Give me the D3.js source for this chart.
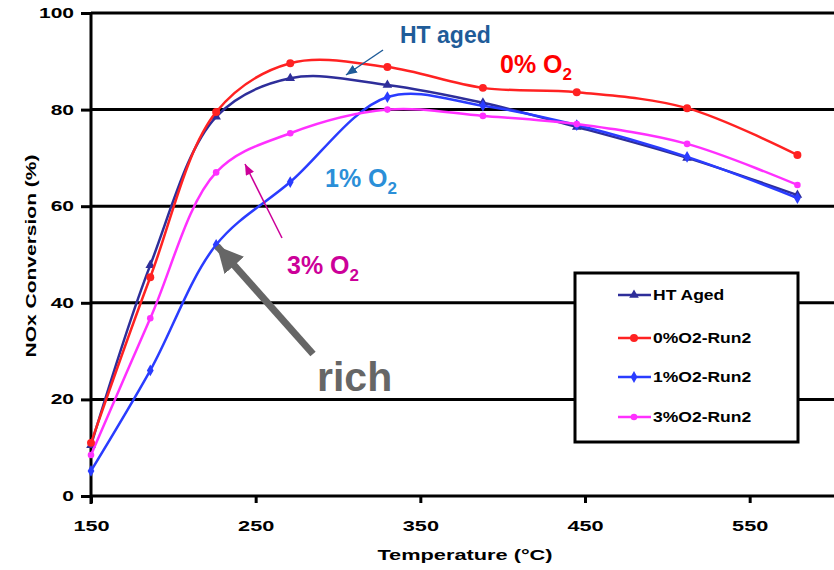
<!DOCTYPE html>
<html>
<head>
<meta charset="utf-8">
<script src="https://cdn.jsdelivr.net/npm/d3@7"></script>
<style>
  html, body { margin: 0; padding: 0; background: #fff; }
  svg { display: block; font-family: "Liberation Sans", Arial, sans-serif; }
  .axis text { font-weight: bold; font-size: 14px; fill: #000; }
  .axis path, .axis line { stroke: #000; stroke-width: 3; }
</style>
</head>
<body>
<svg id="chart" width="834" height="570"></svg>
<script>
// Temperatures (°C) of the measurement points
const temps = [150, 186, 226, 271, 330, 388, 445, 512, 579];

// NOx conversion (%) for each run
const htAged = [10.5, 47.8, 78.5, 86.5, 85.1, 81.4, 76.4, 70.0, 62.3];
const o2_0   = [11.0, 45.3, 79.5, 89.6, 88.8, 84.5, 83.6, 80.3, 70.6];
const o2_1   = [5.2, 26.0, 52.0, 65.0, 82.6, 80.8, 76.8, 70.2, 61.7];
const o2_3   = [8.5, 36.8, 67.0, 75.1, 80.0, 78.7, 77.0, 72.9, 64.4];

const seriesNames = ["HT Aged", "0%O2-Run2", "1%O2-Run2", "3%O2-Run2"];
const xTicks = [150, 250, 350, 450, 550];
const yTicks = [0, 20, 40, 60, 80, 100];

const series = [
  { name: seriesNames[0], values: htAged, color: "#2e2e9a", symbol: d3.symbolTriangle, size: 40 },
  { name: seriesNames[2], values: o2_1,   color: "#2a3cff", symbol: d3.symbolDiamond,  size: 40 },
  { name: seriesNames[3], values: o2_3,   color: "#ff30ff", symbol: d3.symbolCircle,   size: 34 },
  { name: seriesNames[1], values: o2_0,   color: "#ff2222", symbol: d3.symbolCircle,   size: 50 }
];

const svg = d3.select("#chart");
const x = d3.scaleLinear().domain([150, 600]).range([91, 832]);
const y = d3.scaleLinear().domain([0, 100]).range([496, 13]);

// the chart's lettering is set wide: stretch text along its baseline
function widen(sel, k) {
  sel.each(function () {
    const w = this.getComputedTextLength();
    d3.select(this).attr("textLength", w * k).attr("lengthAdjust", "spacingAndGlyphs");
  });
}

// horizontal grid lines
svg.append("g").selectAll("line")
  .data(yTicks.filter(d => d > 0))
  .join("line")
  .attr("x1", x(150)).attr("x2", 834)
  .attr("y1", d => y(d)).attr("y2", d => y(d))
  .attr("stroke", "#000").attr("stroke-width", 3);

// axes
svg.append("g").attr("class", "axis")
  .attr("transform", `translate(${x(150)},0)`)
  .call(d3.axisLeft(y).tickValues(yTicks).tickSize(10).tickPadding(7).tickSizeOuter(0))
  .call(g => g.select(".domain").attr("d", `M0,${y(0) + 8}V${y(100)}`))
  .call(g => widen(g.selectAll("text"), 1.5));

svg.append("g").attr("class", "axis")
  .attr("transform", `translate(0,${y(0)})`)
  .call(d3.axisBottom(x).tickValues(xTicks).tickSize(7).tickPadding(18).tickSizeOuter(0))
  .call(g => g.select(".domain").attr("d", `M${x(150)},0H834`))
  .call(g => widen(g.selectAll("text"), 1.55));

// axis titles
svg.append("text")
  .attr("x", 465).attr("y", 560)
  .attr("text-anchor", "middle")
  .attr("font-size", 15).attr("font-weight", "bold")
  .text("Temperature (°C)")
  .call(t => widen(t, 1.45));

svg.append("text")
  .attr("transform", "translate(36,256) rotate(-90)")
  .attr("text-anchor", "middle")
  .attr("font-size", 15).attr("font-weight", "bold")
  .text("NOx Conversion (%)")
  .call(t => widen(t, 1.4));

// curves
const line = d3.line()
  .x((d, i) => x(temps[i]))
  .y(d => y(d))
  .curve(d3.curveCatmullRom.alpha(0.5));

const gSeries = svg.append("g");
series.forEach(s => {
  gSeries.append("path")
    .attr("d", line(s.values))
    .attr("fill", "none")
    .attr("stroke", s.color)
    .attr("stroke-width", 2.5);
  gSeries.append("g").selectAll("path")
    .data(s.values)
    .join("path")
    .attr("transform", (d, i) => `translate(${x(temps[i])},${y(d)})`)
    .attr("d", d3.symbol().type(s.symbol).size(s.size))
    .attr("fill", s.color);
});

// legend
const lg = svg.append("g");
lg.append("rect")
  .attr("x", 575).attr("y", 273).attr("width", 223).attr("height", 169)
  .attr("fill", "#fff").attr("stroke", "#000").attr("stroke-width", 3);
const rows = [295, 338, 377, 417];
seriesNames.forEach((name, i) => {
  const s = series.find(d => d.name === name);
  lg.append("line")
    .attr("x1", 618).attr("x2", 651).attr("y1", rows[i]).attr("y2", rows[i])
    .attr("stroke", s.color).attr("stroke-width", 2.5);
  lg.append("path")
    .attr("transform", `translate(634,${rows[i]})`)
    .attr("d", d3.symbol().type(s.symbol).size(s.size))
    .attr("fill", s.color);
  lg.append("text")
    .attr("x", 653).attr("y", rows[i] + 5)
    .attr("font-size", 14).attr("font-weight", "bold")
    .text(s.name)
    .call(t => widen(t, 1.25));
});

// annotations
const defs = svg.append("defs");
function arrowHead(id, color, w, h) {
  defs.append("marker")
    .attr("id", id)
    .attr("viewBox", `0 0 ${w} ${h}`)
    .attr("refX", w).attr("refY", h / 2)
    .attr("markerWidth", w).attr("markerHeight", h)
    .attr("markerUnits", "userSpaceOnUse")
    .attr("orient", "auto")
    .append("path")
    .attr("d", `M0,0L${w},${h / 2}L0,${h}Z`)
    .attr("fill", color);
}
arrowHead("ahBlue", "#1f5c99", 11, 9);
arrowHead("ahMag", "#cc0099", 11, 9);
arrowHead("ahGray", "#666666", 26, 26);

svg.append("line")
  .attr("x1", 383).attr("y1", 50).attr("x2", 346).attr("y2", 75)
  .attr("stroke", "#1f5c99").attr("stroke-width", 1.5)
  .attr("marker-end", "url(#ahBlue)");

svg.append("line")
  .attr("x1", 282).attr("y1", 238).attr("x2", 245).attr("y2", 164)
  .attr("stroke", "#cc0099").attr("stroke-width", 1.5)
  .attr("marker-end", "url(#ahMag)");

svg.append("line")
  .attr("x1", 313).attr("y1", 354).attr("x2", 217).attr("y2", 246)
  .attr("stroke", "#666666").attr("stroke-width", 7)
  .attr("marker-end", "url(#ahGray)");

function o2Label(txt, xPos, yPos, color) {
  const t = svg.append("text")
    .attr("x", xPos).attr("y", yPos)
    .attr("font-size", 25).attr("font-weight", "bold")
    .attr("fill", color);
  t.append("tspan").text(txt);
  t.append("tspan").attr("dy", 7).attr("font-size", 17).text("2");
}
svg.append("text")
  .attr("x", 400).attr("y", 43)
  .attr("font-size", 23).attr("font-weight", "bold")
  .attr("fill", "#1f5c99")
  .text("HT aged");
o2Label("0% O", 500, 73, "#ff0000");
o2Label("1% O", 325, 187, "#2b8fd8");
o2Label("3% O", 287, 274, "#cc0099");

svg.append("text")
  .attr("x", 317).attr("y", 391)
  .attr("font-size", 41).attr("font-weight", "bold")
  .attr("fill", "#666666")
  .text("rich");
</script>
</body>
</html>
